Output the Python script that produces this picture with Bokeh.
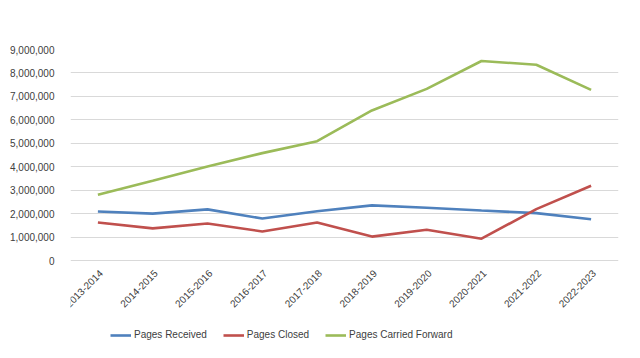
from bokeh.plotting import figure
from bokeh.models import FactorRange, Range1d, NumeralTickFormatter, Legend, LegendItem, FixedTicker
from bokeh.core.properties import value
from bokeh.embed import file_html
from bokeh.resources import INLINE
import math

years = ["2013-2014", "2014-2015", "2015-2016", "2016-2017", "2017-2018",
         "2018-2019", "2019-2020", "2020-2021", "2021-2022", "2022-2023"]
pages_received = [2090000, 2000000, 2180000, 1790000, 2100000,
                  2350000, 2250000, 2130000, 2020000, 1760000]
pages_closed = [1620000, 1370000, 1580000, 1240000, 1620000,
                1020000, 1310000, 930000, 2190000, 3190000]
pages_carried = [2800000, 3400000, 4010000, 4580000, 5090000,
                 6400000, 7320000, 8510000, 8350000, 7280000]
y_ticks = [0, 1000000, 2000000, 3000000, 4000000, 5000000,
           6000000, 7000000, 8000000, 9000000]

FONT = "Liberation Sans"
TXT = "#404040"

# layout: plotting band 211px tall for 0..9M, plus an 82px band below for labels/legend
Y_MAX = 9000000
PLOT_H = 211
BELOW_H = 82
y_min = -Y_MAX * BELOW_H / PLOT_H

p = figure(x_range=FactorRange(*years, range_padding=0), y_range=Range1d(y_min, Y_MAX),
           frame_width=548, frame_height=PLOT_H + BELOW_H,
           output_backend="svg", toolbar_location=None,
           min_border_left=70, min_border_right=6, min_border_top=49, min_border_bottom=0)
p.x_range.range_padding = 0
p.outline_line_color = None
p.background_fill_color = "white"
p.border_fill_color = "white"

p.xgrid.grid_line_color = None
p.ygrid.grid_line_color = "#D9D9D9"
p.ygrid.grid_line_width = 1
p.xaxis.visible = False

p.yaxis.ticker = FixedTicker(ticks=y_ticks)
p.yaxis.formatter = NumeralTickFormatter(format="0,0")
p.yaxis.axis_line_color = None
p.yaxis.major_tick_line_color = None
p.yaxis.minor_tick_line_color = None
p.yaxis.major_label_text_font = FONT
p.yaxis.major_label_text_font_size = "10px"
p.yaxis.major_label_text_color = TXT
p.yaxis.major_label_standoff = 10

# category labels, rotated like the reference
p.text(x=years, y=[0] * len(years), text=years, angle=math.pi / 4,
       text_align="right", text_baseline="top", y_offset=8,
       text_font=value(FONT), text_font_size="10px", text_color=TXT)

colors = ["#4F81BD", "#C0504D", "#9BBB59"]
names = ["Pages Received", "Pages Closed", "Pages Carried Forward"]
series = [pages_received, pages_closed, pages_carried]
items = []
for s, c, n in zip(series, colors, names):
    r = p.line(years, s, line_color=c, line_width=2.6)
    items.append(LegendItem(label=n, renderers=[r]))

legend = Legend(items=items, orientation="horizontal", location=(40, 2),
                label_text_font=FONT, label_text_font_size="10px", label_text_color=TXT,
                glyph_width=21, glyph_height=10, spacing=16, label_standoff=3,
                border_line_color=None, background_fill_alpha=0, padding=0, margin=0)
p.add_layout(legend, "center")

open("out.html", "w").write(file_html(p, INLINE))
